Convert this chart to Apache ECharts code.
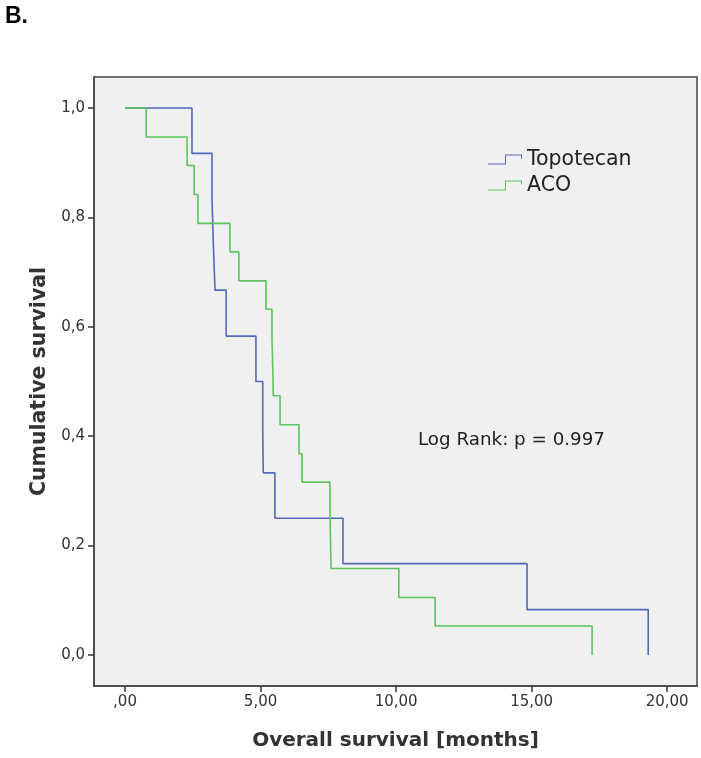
<!DOCTYPE html>
<html>
<head>
<meta charset="utf-8">
<script src="https://cdn.jsdelivr.net/npm/echarts@6/dist/echarts.min.js"></script>
<style>
html,body{margin:0;padding:0;background:#fff;}
#chart{width:701px;height:758px;}
</style>
</head>
<body>
<div id="chart"></div>
<script>
// ---- data ----
var topoTimes = [0, 2.47, 3.21, 3.26, 3.32, 3.73, 4.83, 5.08, 5.10, 5.53, 8.04, 14.83, 19.30];
var topoSurv  = [1, 0.917, 0.833, 0.750, 0.667, 0.583, 0.500, 0.417, 0.333, 0.250, 0.167, 0.083, 0];
var acoTimes = [0, 0.78, 2.29, 2.55, 2.69, 3.87, 4.20, 5.20, 5.42, 5.45, 5.47, 5.72, 6.42, 6.53, 7.56, 7.58, 7.60, 10.10, 11.44, 17.23];
var acoSurv  = [1, 0.947, 0.895, 0.842, 0.789, 0.737, 0.684, 0.632, 0.579, 0.526, 0.474, 0.421, 0.368, 0.316, 0.263, 0.211, 0.158, 0.105, 0.053, 0];
var seriesNames = ['Topotecan', 'ACO'];
var xTickValues = [0, 5, 10, 15, 20];
var xTickLabels = [',00', '5,00', '10,00', '15,00', '20,00'];
var yTickValues = [0, 0.2, 0.4, 0.6, 0.8, 1.0];
var yTickLabels = ['0,0', '0,2', '0,4', '0,6', '0,8', '1,0'];
var xTitle = 'Overall survival [months]';
var yTitle = 'Cumulative survival';
var panelLabel = 'B.';
var statText = 'Log Rank: p = 0.997';

function pairs(t, s) { return t.map(function (v, i) { return [v, s[i]]; }); }
function labelFor(values, labels) {
  return function (v) {
    for (var i = 0; i < values.length; i++) { if (Math.abs(values[i] - v) < 1e-6) return labels[i]; }
    return '';
  };
}

var chart = echarts.init(document.getElementById('chart'), null, {renderer: 'canvas'});
var iconPath = 'path://M0,9 L17,9 L17,0 L34,0 L34,4 L33,4 L33,1 L18,1 L18,10 L0,10 Z';
var tickFont = {fontFamily: 'DejaVu Sans', fontSize: 15, color: '#333'};
var frameColor = '#444';

chart.setOption({
  animation: false,
  backgroundColor: '#ffffff',
  grid: {
    left: 94, top: 77, right: 4, bottom: 72,
    show: true, backgroundColor: '#f0f0f0', borderColor: frameColor, borderWidth: 1.5
  },
  xAxis: {
    type: 'value', min: -1.144, max: 21.1,
    splitLine: {show: false},
    axisLine: {show: true, onZero: false, lineStyle: {color: frameColor, width: 1.5}},
    axisTick: {show: true, length: 6, inside: false, customValues: xTickValues, lineStyle: {color: '#333', width: 1.5}},
    axisLabel: Object.assign({customValues: xTickValues, margin: 9, formatter: labelFor(xTickValues, xTickLabels)}, tickFont),
    name: xTitle, nameLocation: 'middle', nameGap: 45,
    nameTextStyle: {fontFamily: 'DejaVu Sans', fontWeight: 'bold', fontSize: 20, color: '#333'}
  },
  yAxis: {
    type: 'value', min: -0.0567, max: 1.0567,
    splitLine: {show: false},
    axisLine: {show: true, onZero: false, lineStyle: {color: frameColor, width: 1.5}},
    axisTick: {show: true, length: 6, inside: false, customValues: yTickValues, lineStyle: {color: '#333', width: 1.5}},
    axisLabel: Object.assign({customValues: yTickValues, margin: 9, formatter: labelFor(yTickValues, yTickLabels)}, tickFont),
    name: yTitle, nameLocation: 'middle', nameGap: 44, nameRotate: 90,
    nameTextStyle: {fontFamily: 'DejaVu Sans', fontWeight: 'bold', fontSize: 20.5, color: '#333'}
  },
  legend: {
    orient: 'vertical', left: 488, top: 149, padding: 0,
    itemWidth: 34, itemHeight: 10, itemGap: 5,
    icon: iconPath,
    data: seriesNames,
    textStyle: {fontFamily: 'DejaVu Sans', fontSize: 20.5, color: '#222'}
  },
  title: [
    {text: panelLabel, left: 0, top: 0, textStyle: {fontFamily: 'Liberation Sans', fontWeight: 'bold', fontSize: 23, color: '#000'}},
    {text: statText, left: 413, top: 426, textStyle: {fontFamily: 'DejaVu Sans', fontWeight: 'normal', fontSize: 18.3, color: '#222'}}
  ],
  series: [
    {
      name: seriesNames[0], type: 'line', step: 'end', showSymbol: false, symbol: 'none',
      data: pairs(topoTimes, topoSurv),
      color: '#5367bb',
      lineStyle: {color: '#5367bb', width: 1.6},
      itemStyle: {color: '#5367bb'}
    },
    {
      name: seriesNames[1], type: 'line', step: 'end', showSymbol: false, symbol: 'none',
      data: pairs(acoTimes, acoSurv),
      color: '#5cc35e',
      lineStyle: {color: '#5cc35e', width: 1.6},
      itemStyle: {color: '#5cc35e'}
    }
  ]
});
</script>
</body>
</html>
